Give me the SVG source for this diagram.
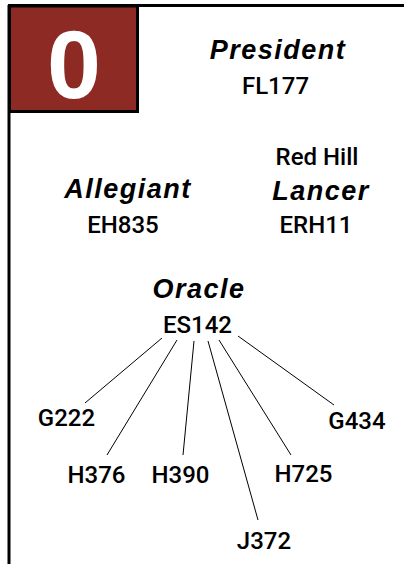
<svg xmlns="http://www.w3.org/2000/svg" width="404" height="564" viewBox="0 0 404 564">
<style>
.name{font-family:"Liberation Sans",Arial,sans-serif;font-weight:bold;font-style:italic;font-size:27px;letter-spacing:1.5px;fill:#000;text-anchor:middle}
.lbl{font-family:Roboto,"Liberation Sans",Arial,sans-serif;font-weight:500;font-size:24px;fill:#000;text-anchor:middle}
.edge{stroke:#000;stroke-width:1;fill:none}
</style>
<rect width="404" height="564" fill="#fff"/>
<g id="frame">
<line x1="8" y1="5.5" x2="404" y2="5.5" stroke="#000" stroke-width="3"/>
<line x1="9" y1="5" x2="9" y2="564" stroke="#000" stroke-width="3"/>
<rect x="9.5" y="6" width="128" height="105.5" fill="#8c2a23" stroke="#000" stroke-width="3"/>
<text x="74" y="98" font-family="Liberation Sans,Arial,sans-serif" font-weight="bold" font-size="97" fill="#fff" text-anchor="middle">0</text>
</g>
<g id="connectors">
<line class="edge" x1="162" y1="338" x2="85" y2="403"/>
<line class="edge" x1="177" y1="340" x2="107" y2="455"/>
<line class="edge" x1="194" y1="341" x2="183" y2="455"/>
<line class="edge" x1="208" y1="341" x2="258" y2="520"/>
<line class="edge" x1="219" y1="340" x2="291" y2="455"/>
<line class="edge" x1="238" y1="336" x2="334" y2="405"/>
</g>
<g id="president"><text class="name" x="278" y="59">President</text><text class="lbl" x="275.5" y="94">FL177</text></g>
<g id="allegiant"><text class="name" x="128" y="198">Allegiant</text><text class="lbl" x="123" y="233">EH835</text></g>
<g id="lancer"><text class="lbl" x="317" y="165">Red Hill</text><text class="name" x="321" y="200">Lancer</text><text class="lbl" x="316" y="233">ERH11</text></g>
<g id="oracle"><text class="name" x="199" y="298">Oracle</text><text class="lbl" x="197.5" y="333">ES142</text></g>
<g id="g222"><text class="lbl" x="66.5" y="426">G222</text></g>
<g id="g434"><text class="lbl" x="357" y="429">G434</text></g>
<g id="h376"><text class="lbl" x="96.5" y="483">H376</text></g>
<g id="h390"><text class="lbl" x="180.5" y="483">H390</text></g>
<g id="h725"><text class="lbl" x="303.5" y="482">H725</text></g>
<g id="j372"><text class="lbl" x="264" y="549">J372</text></g>
</svg>
